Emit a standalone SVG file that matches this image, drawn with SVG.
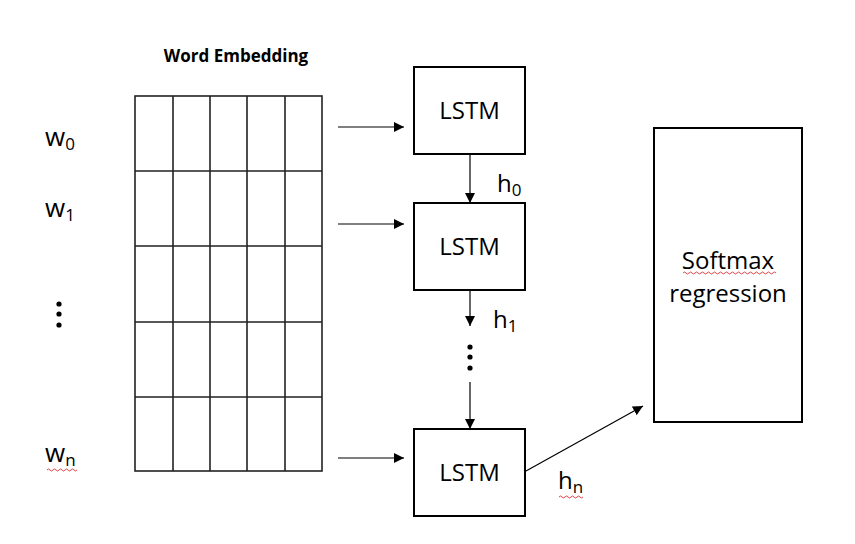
<svg xmlns="http://www.w3.org/2000/svg" width="855" height="544" viewBox="0 0 855 544">
<style>
.box{fill:#fff;stroke:#000;stroke-width:2}
.grid{fill:none;stroke:#222;stroke-width:1.6}
.t{font-family:"Open Sans","Noto Sans","Liberation Sans",sans-serif;fill:#000}
.c{stroke:#000;stroke-width:1.2;fill:none}
.sq{stroke:#e03030;stroke-width:0.9;fill:none}
</style>
<defs>
<marker id="ah" viewBox="0 0 10 10" refX="10" refY="5" markerWidth="10" markerHeight="10" markerUnits="userSpaceOnUse" orient="auto">
<path d="M0,0 L10,5 L0,10 z" fill="#000"/>
</marker>
</defs>
<rect width="855" height="544" fill="#fff"/>
<g id="embedding">
<text class="t" x="236" y="62" font-size="17" font-weight="bold" text-anchor="middle">Word Embedding</text>
<rect class="grid" x="135" y="96" width="187" height="375"/>
<path class="grid" d="M173,96V471M210,96V471M247,96V471M285,96V471M135,171H322M135,246H322M135,322H322M135,397H322"/>
</g>
<g id="words">
<text class="t" x="45" y="146" font-size="26">w<tspan font-size="17" dy="4">0</tspan></text>
<text class="t" x="45" y="217" font-size="26">w<tspan font-size="17" dy="4">1</tspan></text>
<circle cx="59" cy="304" r="2.6"/><circle cx="59" cy="314" r="2.6"/><circle cx="59" cy="325" r="2.6"/>
<text class="t" x="45" y="462" font-size="26">w<tspan font-size="17" dy="4">n</tspan></text>
<path class="sq" d="M47,470 q1.5,-2 3,0 t3,0 t3,0 t3,0 t3,0 t3,0 t3,0 t3,0 t3,0 t3,0"/>
</g>
<g id="lstm0"><rect class="box" x="414" y="67" width="111" height="87"/><text class="t" x="469.5" y="119" font-size="24" text-anchor="middle">LSTM</text></g>
<g id="lstm1"><rect class="box" x="414" y="203" width="111" height="87"/><text class="t" x="469.5" y="255" font-size="24" text-anchor="middle">LSTM</text></g>
<g id="lstmn"><rect class="box" x="414" y="429" width="111" height="87"/><text class="t" x="469.5" y="481" font-size="24" text-anchor="middle">LSTM</text></g>
<g id="softmax"><rect class="box" x="654" y="128" width="148" height="294"/>
<text class="t" x="728" y="269" font-size="24" text-anchor="middle">Softmax</text>
<text class="t" x="728" y="302" font-size="24" text-anchor="middle">regression</text>
<path class="sq" d="M683,273 q1.5,-2 3,0 t3,0 t3,0 t3,0 t3,0 t3,0 t3,0 t3,0 t3,0 t3,0 t3,0 t3,0 t3,0 t3,0 t3,0 t3,0 t3,0 t3,0 t3,0 t3,0 t3,0 t3,0 t3,0 t3,0 t3,0 t3,0 t3,0 t3,0 t3,0 t3,0 t3,0"/>
</g>
<g id="connectors">
<line class="c" x1="338" y1="127" x2="404" y2="127" marker-end="url(#ah)"/>
<line class="c" x1="338" y1="224" x2="404" y2="224" marker-end="url(#ah)"/>
<line class="c" x1="338" y1="458" x2="404" y2="458" marker-end="url(#ah)"/>
<line class="c" x1="470" y1="154" x2="470" y2="203" marker-end="url(#ah)"/>
<line class="c" x1="470" y1="290" x2="470" y2="326" marker-end="url(#ah)"/>
<circle cx="470" cy="347" r="2.6"/><circle cx="470" cy="357" r="2.6"/><circle cx="470" cy="368" r="2.6"/>
<line class="c" x1="470" y1="382" x2="470" y2="429" marker-end="url(#ah)"/>
<line class="c" x1="526" y1="471" x2="643" y2="406" marker-end="url(#ah)"/>
</g>
<g id="labels">
<text class="t" x="497" y="192" font-size="24">h<tspan font-size="17" dy="4">0</tspan></text>
<text class="t" x="493" y="328" font-size="24">h<tspan font-size="17" dy="4">1</tspan></text>
<text class="t" x="558" y="489" font-size="24">h<tspan font-size="17" dy="4">n</tspan></text>
<path class="sq" d="M559,497 q1.5,-2 3,0 t3,0 t3,0 t3,0 t3,0 t3,0 t3,0 t3,0"/>
</g>
</svg>
